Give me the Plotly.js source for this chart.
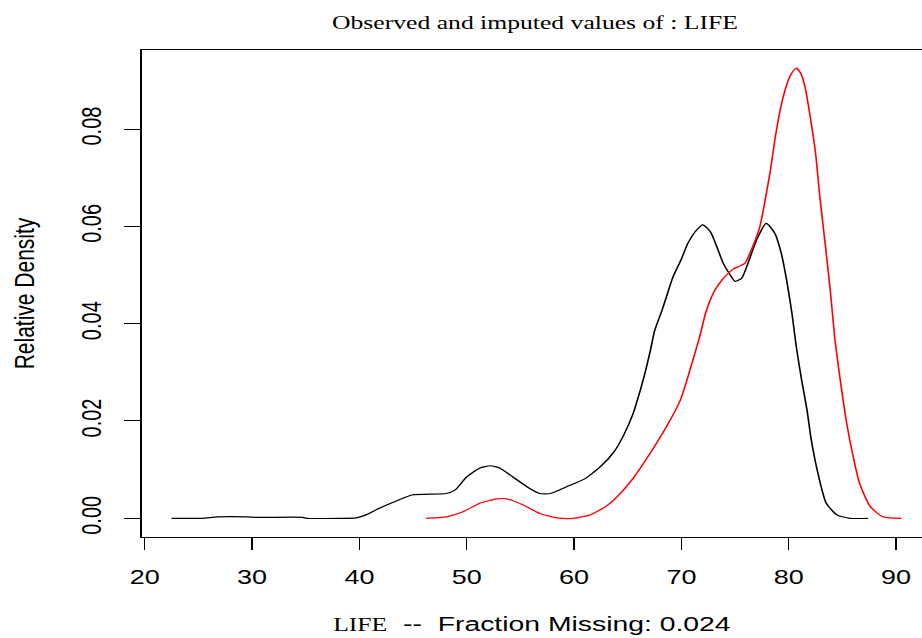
<!DOCTYPE html>
<html>
<head>
<meta charset="utf-8">
<script src="https://cdn.plot.ly/plotly-3.0.1.min.js"></script>
<style>
  html, body { margin: 0; padding: 0; background: #ffffff; overflow: hidden; width: 922px; height: 638px; }
  #plot { width: 683px; height: 638px; transform: scaleX(1.35); transform-origin: 0 0; }
</style>
</head>
<body>
<div id="plot"></div>
<script>
// Observed density (black)
var obsX = [22.5, 25.3, 26.8, 29.5, 30.4, 34.7, 35.1, 38.2, 39.7, 40.5, 41.9, 43.5, 44.9, 48.1, 48.9, 50.0, 51.2, 52.2, 53.1, 54.3, 55.6, 56.8, 57.8, 59.3, 60.9, 62.4, 63.7, 64.6, 65.5, 66.1, 66.6, 67.1, 67.5, 68.2, 68.6, 69.2, 70.0, 70.6, 71.4, 72.0, 72.7, 73.3, 73.9, 74.4, 75.0, 75.6, 76.2, 77.0, 77.9, 78.7, 79.3, 79.8, 80.3, 80.7, 81.2, 81.7, 82.1, 82.8, 83.5, 84.5, 85.7, 87.4];
var obsY = [0, 0, 0.0003, 0.0003, 0.0002, 0.0002, 0, 0, 0.0001, 0.0006, 0.0021, 0.0036, 0.0048, 0.0051, 0.0058, 0.0085, 0.0103, 0.0108, 0.0103, 0.0085, 0.0065, 0.0051, 0.0051, 0.0065, 0.0080, 0.0105, 0.0136, 0.0170, 0.0215, 0.0258, 0.0298, 0.0344, 0.0385, 0.0428, 0.0455, 0.0495, 0.0533, 0.0565, 0.0592, 0.0603, 0.0589, 0.0558, 0.0524, 0.0505, 0.0487, 0.0493, 0.0524, 0.0572, 0.0606, 0.0586, 0.0545, 0.0490, 0.0421, 0.0353, 0.0284, 0.0223, 0.0161, 0.0085, 0.0031, 0.0007, 0, 0];

// Imputed density (red)
var impX = [46.2, 48.1, 49.7, 51.2, 52.8, 53.7, 55.3, 56.8, 58.4, 59.9, 61.5, 63.0, 64.0, 65.5, 67.1, 68.6, 69.9, 70.8, 71.7, 72.3, 73.1, 73.9, 74.4, 74.8, 75.9, 76.5, 77.3, 77.8, 78.3, 78.7, 79.2, 79.8, 80.2, 80.7, 81.1, 81.5, 82.0, 82.5, 82.9, 83.4, 83.9, 84.3, 84.8, 85.4, 86.0, 86.6, 87.6, 88.8, 90.5];
var impY = [0, 0.0003, 0.0014, 0.0031, 0.0040, 0.0040, 0.0027, 0.0010, 0.0001, 0, 0.0007, 0.0025, 0.0044, 0.0082, 0.0134, 0.0188, 0.0243, 0.0305, 0.0373, 0.0425, 0.0468, 0.0493, 0.0504, 0.0512, 0.0524, 0.0551, 0.0599, 0.0654, 0.0716, 0.0777, 0.0839, 0.0890, 0.0912, 0.0925, 0.0915, 0.0888, 0.0825, 0.0750, 0.0660, 0.0563, 0.0462, 0.0368, 0.0284, 0.0195, 0.0127, 0.0072, 0.0024, 0.0003, 0];

var xTicks = [20, 30, 40, 50, 60, 70, 80, 90];
var yTicks = [0, 0.02, 0.04, 0.06, 0.08];
var yTickText = ["0.00", "0.02", "0.04", "0.06", "0.08"];

var titleText = "Observed and imputed values of : LIFE";
var xTitleText = "<span style=\"font-family:'Liberation Serif';font-size:19px\">LIFE</span>&nbsp;&nbsp;--&nbsp;&nbsp;Fraction Missing: 0.024";
var yTitleText = "Relative Density";

var traces = [
  { x: obsX, y: obsY, type: 'scatter', mode: 'lines', name: 'Observed',
    line: { color: '#000000', width: 1.2, shape: 'spline', smoothing: 0.6 }, hoverinfo: 'skip' },
  { x: impX, y: impY, type: 'scatter', mode: 'lines', name: 'Imputed',
    line: { color: '#ff0000', width: 1.2, shape: 'spline', smoothing: 0.6 }, hoverinfo: 'skip' }
];

var layout = {
  width: 683, height: 638,
  margin: { l: 105, r: 0, t: 50, b: 101, pad: 0 },
  paper_bgcolor: '#ffffff', plot_bgcolor: '#ffffff',
  showlegend: false,
  font: { family: "'Liberation Sans', Arial, sans-serif", color: '#000000' },
  title: {
    text: titleText,
    font: { family: "'Liberation Serif', 'Times New Roman', serif", size: 19, color: '#000000' },
    x: 0.5802, xref: 'container', xanchor: 'center',
    y: 1 - 22 / 638, yref: 'container', yanchor: 'middle'
  },
  xaxis: {
    range: [19.72, 92.42], autorange: false,
    tickvals: xTicks, ticktext: xTicks.map(String),
    ticks: 'outside', ticklen: 12, tickwidth: 1, tickcolor: '#000000',
    ticklabelstandoff: 10,
    showline: true, linecolor: '#000000', linewidth: 1.2, mirror: true,
    showgrid: false, zeroline: false,
    tickfont: { family: "'Liberation Sans', Arial, sans-serif", size: 20, color: '#000000' },
    title: { text: xTitleText, font: { family: "'Liberation Sans', Arial, sans-serif", size: 21, color: '#000000' }, standoff: 29 }
  },
  yaxis: {
    range: [-0.00384, 0.09624], autorange: false,
    tickvals: yTicks, ticktext: yTickText, tickangle: -90,
    ticks: 'outside', ticklen: 12, tickwidth: 1, tickcolor: '#000000',
    ticklabelstandoff: 9,
    showline: true, linecolor: '#000000', linewidth: 1.2,
    showgrid: false, zeroline: false,
    tickfont: { family: "'Liberation Sans', Arial, sans-serif", size: 20, color: '#000000' },
    title: { text: yTitleText, font: { family: "'Liberation Sans', Arial, sans-serif", size: 21, color: '#000000' }, standoff: 25 }
  }
};

Plotly.newPlot('plot', traces, layout, { displayModeBar: false, staticPlot: true });
</script>
</body>
</html>
